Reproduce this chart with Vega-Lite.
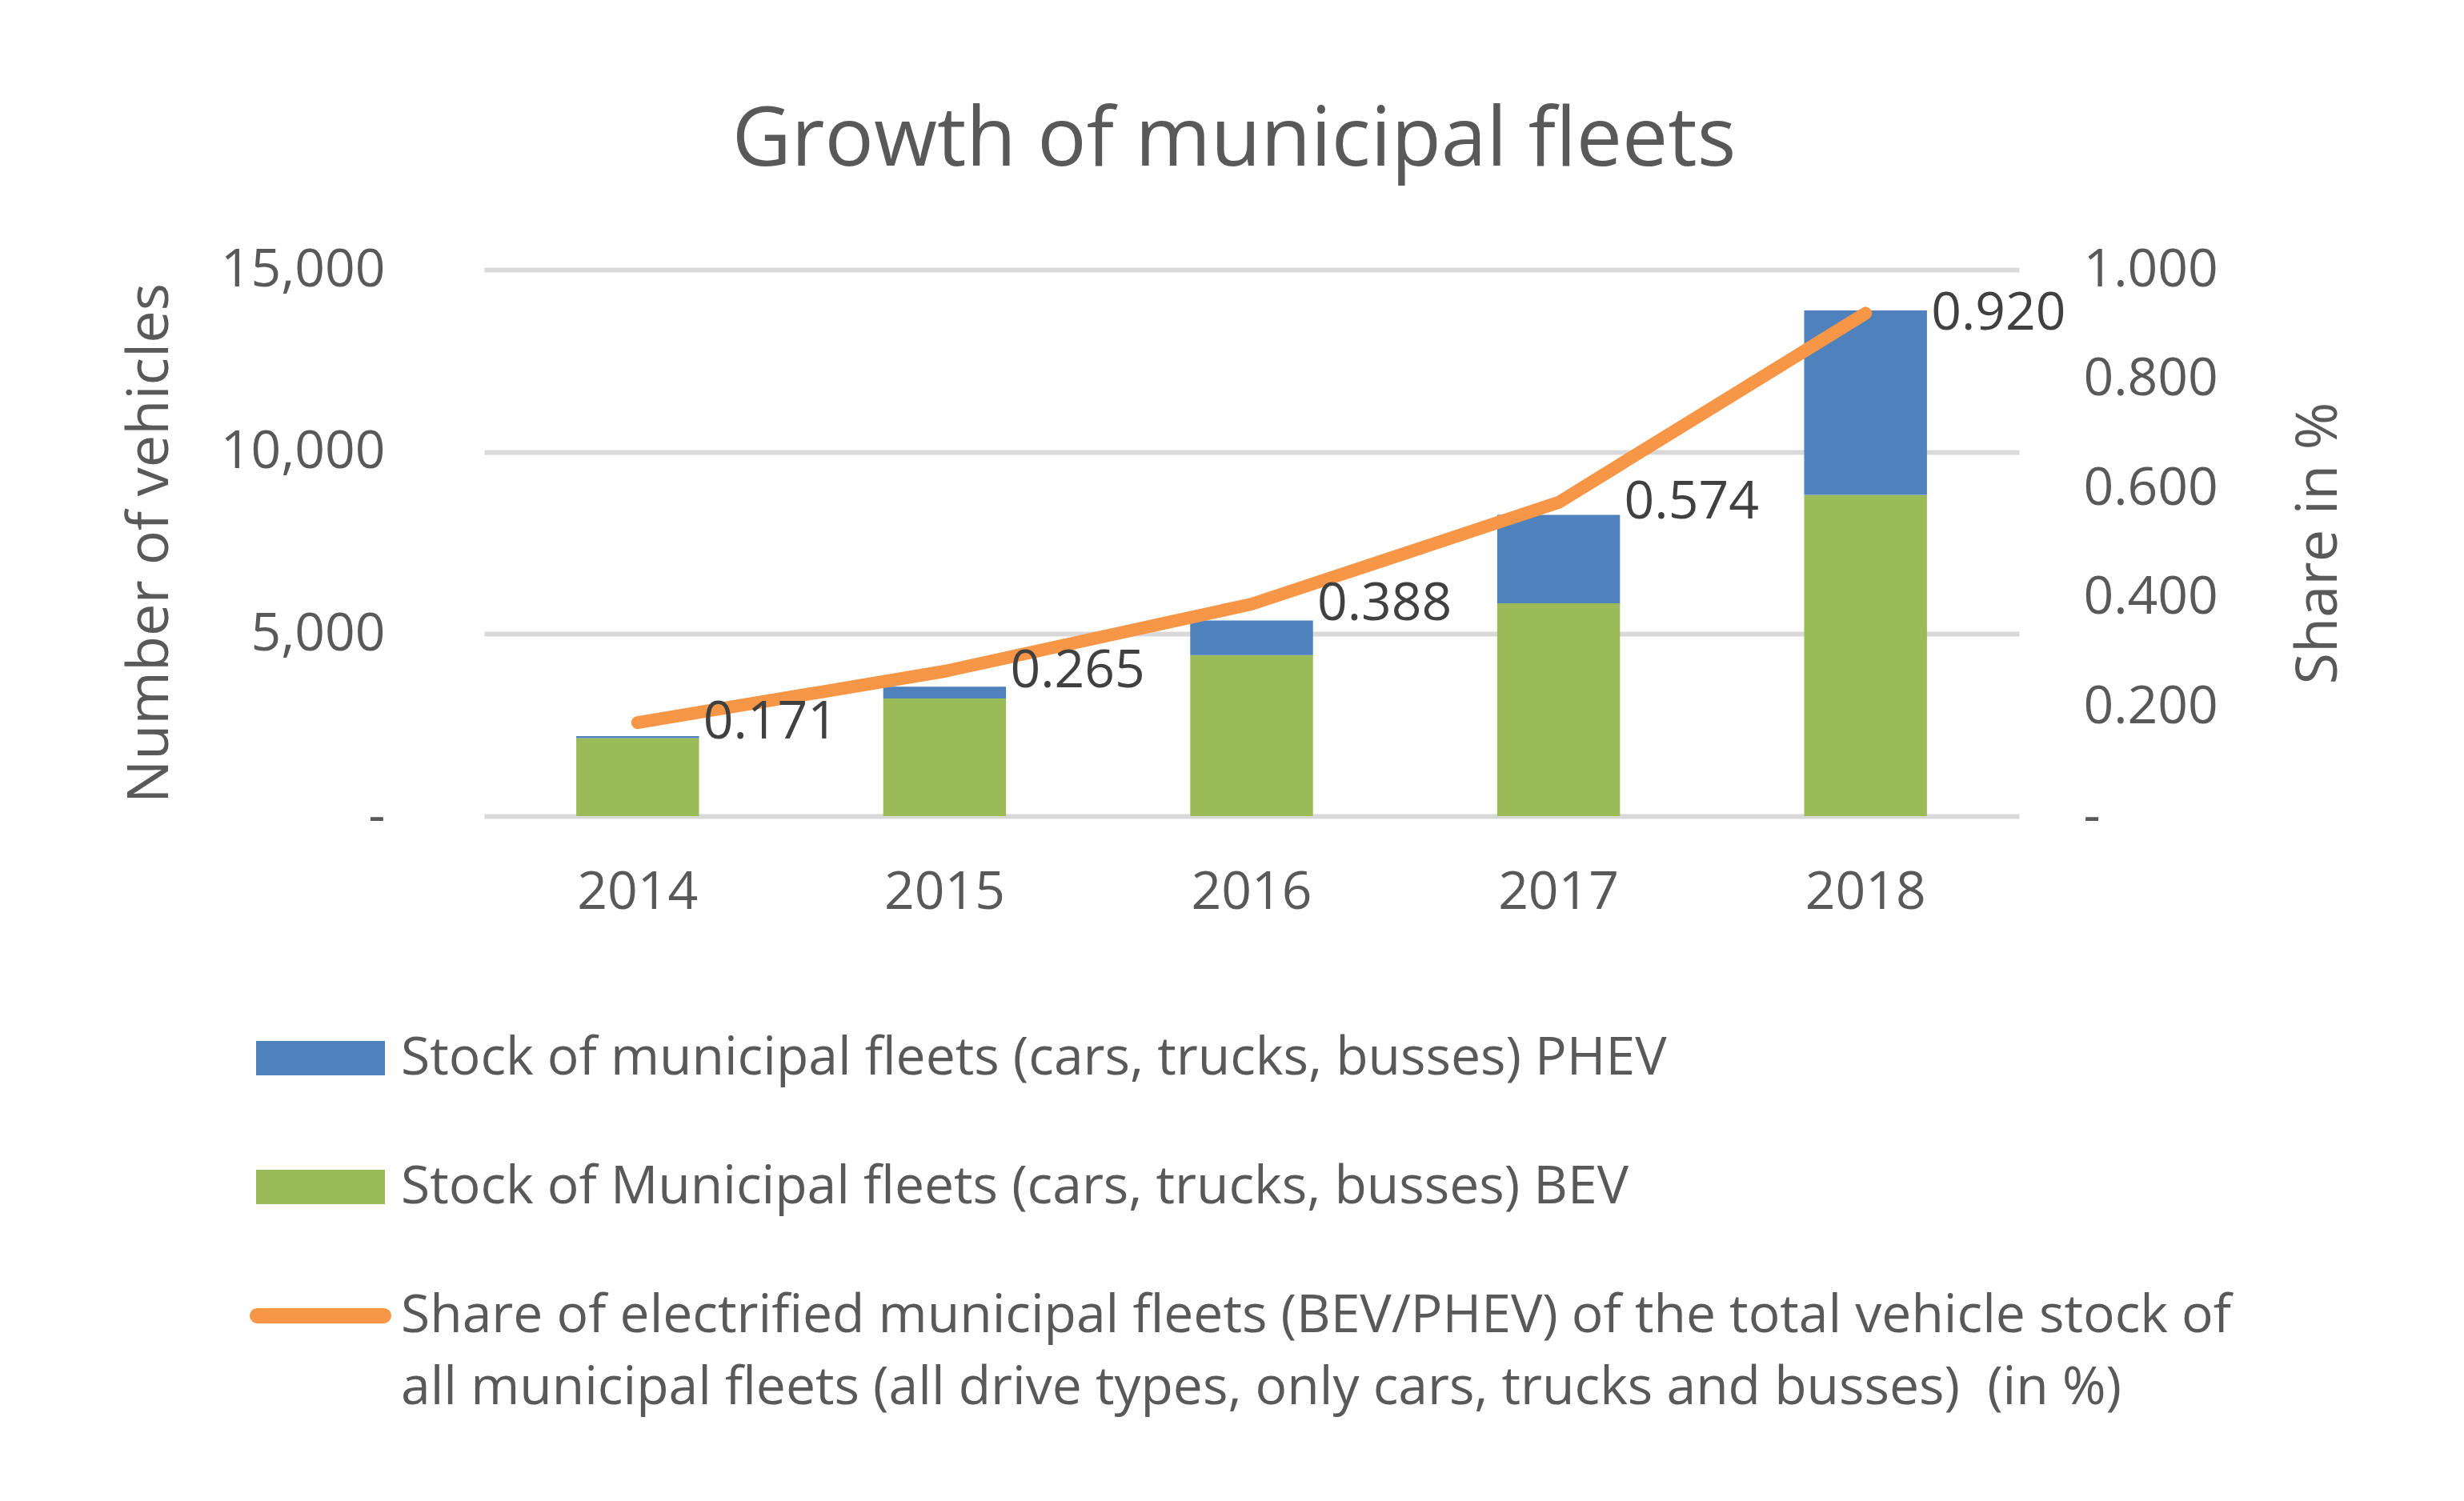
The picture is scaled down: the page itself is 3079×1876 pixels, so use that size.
{
  "$schema": "https://vega.github.io/schema/vega-lite/v6.json",
  "width": 1918,
  "height": 683,
  "autosize": {"type": "none"},
  "padding": {"left": 605, "top": 337, "right": 556, "bottom": 856},
  "background": "white",
  "config": {"view": {"stroke": null}, "font": "Open Sans"},
  "title": {
    "text": "Growth of municipal fleets",
    "font": "Open Sans",
    "fontSize": 102,
    "fontWeight": "normal",
    "color": "#595959",
    "anchor": "middle",
    "baseline": "alphabetic",
    "offset": -5,
    "dx": -22
  },
  "datasets": {
    "stock": [
      {"year": "2014", "series": "Stock of Municipal fleets (cars, trucks, busses) BEV", "vehicles": 2140},
      {"year": "2014", "series": "Stock of municipal fleets (cars, trucks, busses) PHEV", "vehicles": 55},
      {"year": "2015", "series": "Stock of Municipal fleets (cars, trucks, busses) BEV", "vehicles": 3230},
      {"year": "2015", "series": "Stock of municipal fleets (cars, trucks, busses) PHEV", "vehicles": 320},
      {"year": "2016", "series": "Stock of Municipal fleets (cars, trucks, busses) BEV", "vehicles": 4420},
      {"year": "2016", "series": "Stock of municipal fleets (cars, trucks, busses) PHEV", "vehicles": 950},
      {"year": "2017", "series": "Stock of Municipal fleets (cars, trucks, busses) BEV", "vehicles": 5840},
      {"year": "2017", "series": "Stock of municipal fleets (cars, trucks, busses) PHEV", "vehicles": 2430},
      {"year": "2018", "series": "Stock of Municipal fleets (cars, trucks, busses) BEV", "vehicles": 8820},
      {"year": "2018", "series": "Stock of municipal fleets (cars, trucks, busses) PHEV", "vehicles": 5060}
    ],
    "share": [
      {"year": "2014", "share": 0.171},
      {"year": "2015", "share": 0.265},
      {"year": "2016", "share": 0.388},
      {"year": "2017", "share": 0.574},
      {"year": "2018", "share": 0.920}
    ]
  },
  "layer": [
    {
      "data": {"name": "stock"},
      "mark": {"type": "bar"},
      "encoding": {
        "x": {
          "field": "year",
          "type": "ordinal",
          "scale": {"paddingInner": 0.6, "paddingOuter": 0.3},
          "axis": {
            "title": null,
            "labelAngle": 0,
            "labelFont": "Open Sans",
            "labelFontSize": 66,
            "labelColor": "#595959",
            "labelPadding": 63,
            "ticks": false,
            "domain": false,
            "grid": false
          }
        },
        "y": {
          "field": "vehicles",
          "type": "quantitative",
          "stack": "zero",
          "scale": {"domain": [0, 15000], "nice": false},
          "axis": {
            "title": "Number of vehicles",
            "values": [0, 5000, 10000, 15000],
            "labelExpr": "datum.value == 0 ? '-\u2007\u2007' : format(datum.value, ',')",
            "labelFont": "Open Sans",
            "labelFontSize": 66,
            "labelColor": "#595959",
            "labelPadding": 124,
            "labelLimit": 500,
            "ticks": false,
            "domain": false,
            "grid": true,
            "gridColor": "#d9d9d9",
            "gridWidth": 6,
            "titleFont": "Open Sans",
            "titleFontSize": 72,
            "titleFontWeight": "normal",
            "titleColor": "#595959",
            "titlePadding": 181
          }
        },
        "color": {
          "field": "series",
          "type": "nominal",
          "scale": {
            "domain": [
              "Stock of municipal fleets (cars, trucks, busses) PHEV",
              "Stock of Municipal fleets (cars, trucks, busses) BEV",
              "Share of electrified municipal fleets (BEV/PHEV) of the total vehicle stock of all municipal fleets (all drive types, only cars, trucks and busses)  (in %)"
            ],
            "range": ["#4F81BD", "#9BBB59", "#F79646"]
          },
          "legend": {
            "orient": "none",
            "legendX": -285,
            "legendY": 905,
            "direction": "vertical",
            "title": null,
            "padding": 0,
            "symbolSize": 25921,
            "symbolType": "M-1,-0.267H1V0.267H-1Z",
            "symbolStrokeWidth": 0,
            "labelFont": "Open Sans",
            "labelFontSize": 66,
            "labelColor": "#595959",
            "labelOffset": 20,
            "labelLimit": 3000,
            "rowPadding": 47,
            "labelExpr": "indexof(datum.label, 'Share') === 0 ? ['Share of electrified municipal fleets (BEV/PHEV) of the total vehicle stock of', 'all municipal fleets (all drive types, only cars, trucks and busses) \u00a0(in %)'] : datum.label",
            "encode": {
              "symbols": {
                "update": {
                  "shape": {"signal": "indexof(datum.value, 'Share') === 0 ? 'M-0.98,-0.118H0.98A0.118,0.118 0 0 1 0.98,0.118H-0.98A0.118,0.118 0 0 1 -0.98,-0.118Z' : 'M-1,-0.267H1V0.267H-1Z'"},
                  "fill": {"scale": "color", "field": "value"},
                  "stroke": {"value": "transparent"},
                  "strokeWidth": {"value": 0},
                  "opacity": {"value": 1}
                }
              },
              "labels": {
                "update": {
                  "lineHeight": {"value": 90}
                }
              }
            }
          }
        },
        "order": {"field": "series", "sort": "ascending"}
      }
    },
    {
      "data": {"name": "share"},
      "encoding": {
        "x": {"field": "year", "type": "ordinal"},
        "y": {
          "field": "share",
          "type": "quantitative",
          "scale": {"domain": [0, 1], "nice": false},
          "axis": {
            "orient": "right",
            "title": "Share in %",
            "values": [0, 0.2, 0.4, 0.6, 0.8, 1],
            "labelExpr": "datum.value == 0 ? '-' : format(datum.value, '.3f')",
            "labelFont": "Open Sans",
            "labelFontSize": 66,
            "labelColor": "#595959",
            "labelPadding": 80,
            "labelLimit": 500,
            "ticks": false,
            "domain": false,
            "grid": false,
            "titleFont": "Open Sans",
            "titleFontSize": 72,
            "titleFontWeight": "normal",
            "titleColor": "#595959",
            "titleAngle": 270,
            "titlePadding": 211
          }
        }
      },
      "layer": [
        {
          "mark": {"type": "line", "strokeWidth": 16, "strokeCap": "round", "strokeJoin": "round"},
          "encoding": {
            "color": {"datum": "Share of electrified municipal fleets (BEV/PHEV) of the total vehicle stock of all municipal fleets (all drive types, only cars, trucks and busses)  (in %)"}
          }
        },
        {
          "mark": {"type": "text", "align": "left", "baseline": "middle", "dx": 82, "font": "Open Sans", "fontSize": 66, "color": "#404040"},
          "encoding": {"text": {"field": "share", "type": "quantitative", "format": ".3f"}}
        }
      ]
    }
  ],
  "resolve": {"scale": {"y": "independent"}}
}
